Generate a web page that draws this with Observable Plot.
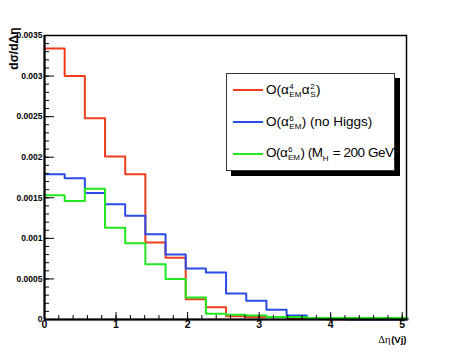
<!DOCTYPE html>
<html>
<head>
<meta charset="utf-8">
<script src="https://cdn.jsdelivr.net/npm/d3@7"></script>
<script src="https://cdn.jsdelivr.net/npm/@observablehq/plot@0.6"></script>
<style>
  html, body { margin: 0; padding: 0; background: white; }
  #wrap { position: relative; width: 452px; height: 354px; font-family: "Liberation Sans", Arial, Helvetica, sans-serif; }
  #legend { position: absolute; left: 226px; top: 73px; width: 167px; height: 96px; border: 1px solid #333; background: white; box-shadow: 5px 5px 0 #000; overflow: visible; }
  .entry { position: absolute; left: 6px; height: 20px; display: flex; align-items: center; white-space: nowrap; font-size: 13.5px; color: #000; }
  .entry.tight { letter-spacing: -0.45px; }
  .swatch { display: inline-block; width: 30px; height: 2px; margin-right: 3px; }
  .ss { display: inline-flex; flex-direction: column; font-size: 8px; line-height: 8px; vertical-align: 5px; margin: 0 0.5px; text-align: left; letter-spacing: 0; }
  .sb { font-size: 8px; vertical-align: -4px; margin-right: 1px; letter-spacing: 0; }
</style>
</head>
<body>
<div id="wrap"></div>
<script>
// ---- data ----
const binEdges = [0, 0.282, 0.564, 0.846, 1.128, 1.41, 1.692, 1.974, 2.256, 2.538, 2.82, 3.102, 3.384, 3.666, 3.948, 4.23, 4.512, 4.794, 5.076];
const seriesNames = ["QCD", "EW no Higgs", "EW MH 200"];
const seriesColors = ["#f03c1e", "#2a4be8", "#22e822"];
const qcdValues   = [0.00334, 0.00300, 0.00248, 0.00201, 0.00179, 0.00095, 0.00076, 0.00025, 0.00015, 0.00004, 0.00003, 0.00003, 0.00001, 0.00001, 0, 0, 0, 0];
const ewNoHiggs   = [0.00179, 0.00174, 0.00156, 0.00142, 0.00128, 0.00105, 0.00080, 0.00063, 0.00058, 0.00032, 0.00023, 0.00012, 0.00005, 0.00001, 0.00001, 0, 0, 0];
const ewHiggs200  = [0.00153, 0.00146, 0.00161, 0.00113, 0.00094, 0.00068, 0.00050, 0.00027, 0.00007, 0.00006, 0.00005, 0.00003, 0.00003, 0.00002, 0.00002, 0.00002, 0.00002, 0.00002];
const yTicks = [0, 0.0005, 0.001, 0.0015, 0.002, 0.0025, 0.003, 0.0035];
const yTickLabels = ["0", "0.0005", "0.001", "0.0015", "0.002", "0.0025", "0.003", "0.0035"];
const yMinorTicks = d3.range(0, 36).map(i => i / 10000);
const xTicks = [0, 1, 2, 3, 4, 5];
const xTickLabels = ["0", "1", "2", "3", "4", "5"];
const xMinorTicks = d3.range(0, 26).map(i => i / 5);
const legendLabels = [
  'O(α<span class="ss"><span>4</span><span>EM</span></span>α<span class="ss"><span>2</span><span>S</span></span>)',
  'O(α<span class="ss"><span>6</span><span>EM</span></span>) (no Higgs)',
  'O(α<span class="ss"><span>6</span><span>EM</span></span>) (M<span class="sb">H</span> = 200 GeV)'
];

// ---- build ----
const W = 452, H = 354, mL = 44, mR = 46, mT = 35, mB = 35;
const frameW = W - mL - mR, frameH = H - mT - mB;
function histPoints(vals) {
  const pts = vals.map((v, i) => ({x: binEdges[i], y: v}));
  pts.push({x: binEdges[vals.length], y: vals[vals.length - 1]});
  return pts;
}
const allSeries = [qcdValues, ewNoHiggs, ewHiggs200];
const yTickData = yTicks.map((v, i) => ({v, label: yTickLabels[i]}));
const xTickData = xTicks.map((v, i) => ({v, label: xTickLabels[i]}));

const chart = Plot.plot({
  width: W, height: H,
  marginLeft: mL, marginRight: mR, marginTop: mT, marginBottom: mB,
  x: {domain: [0, 5.06], axis: null},
  y: {domain: [0, 0.0035], axis: null},
  style: {background: "white", fontFamily: "'Liberation Sans', Arial, Helvetica, sans-serif", color: "black"},
  marks: [
    ...allSeries.map((vals, k) => Plot.line(histPoints(vals), {x: "x", y: "y", curve: "step-after", stroke: seriesColors[k], strokeWidth: 2})),
    Plot.ruleY(yMinorTicks, {y: d => d, insetRight: frameW - 5, stroke: "black", strokeWidth: 1}),
    Plot.ruleY(yTicks, {y: d => d, insetRight: frameW - 10, stroke: "black", strokeWidth: 1}),
    Plot.ruleX(xMinorTicks, {x: d => d, insetTop: frameH - 4, stroke: "black", strokeWidth: 1}),
    Plot.ruleX(xTicks, {x: d => d, insetTop: frameH - 7, stroke: "black", strokeWidth: 1}),
    Plot.frame({stroke: "black", strokeWidth: 1.5}),
    Plot.ruleY([0], {stroke: "black", strokeWidth: 2}),
    Plot.ruleX([0], {stroke: "black", strokeWidth: 2}),
    Plot.text(yTickData, {y: "v", text: "label", frameAnchor: "left", textAnchor: "end", dx: -2, fontSize: 8.5, fontWeight: "bold", fill: "black"}),
    Plot.text(xTickData, {x: "v", text: "label", frameAnchor: "bottom", lineAnchor: "top", dy: 1, fontSize: 10.5, fontWeight: "bold", fill: "black"}),
    Plot.text(["dσ/dΔη"], {frameAnchor: "top-left", dx: -35, dy: -8, rotate: -90, textAnchor: "end", fontSize: 12, fontWeight: "bold", fill: "black"}),
    Plot.text(["(Vj)"], {frameAnchor: "bottom-right", textAnchor: "end", dy: 23, fontSize: 9.5, fontWeight: "bold", fill: "black"}),
    Plot.text(["Δη"], {frameAnchor: "bottom-right", textAnchor: "end", dx: -16, dy: 23, fontSize: 10.5, fontFamily: "'Liberation Serif', 'DejaVu Serif', serif", fill: "black"})
  ]
});

const wrap = document.getElementById("wrap");
wrap.appendChild(chart);
const legend = document.createElement("div");
legend.id = "legend";
const centers = [16, 48, 80];
legendLabels.forEach((lab, k) => {
  const e = document.createElement("div");
  e.className = "entry" + (k === 2 ? " tight" : "");
  e.style.top = (centers[k] - 10) + "px";
  e.innerHTML = `<span class="swatch" style="background:${seriesColors[k]}"></span><span>${lab}</span>`;
  legend.appendChild(e);
});
wrap.appendChild(legend);
</script>
</body>
</html>
